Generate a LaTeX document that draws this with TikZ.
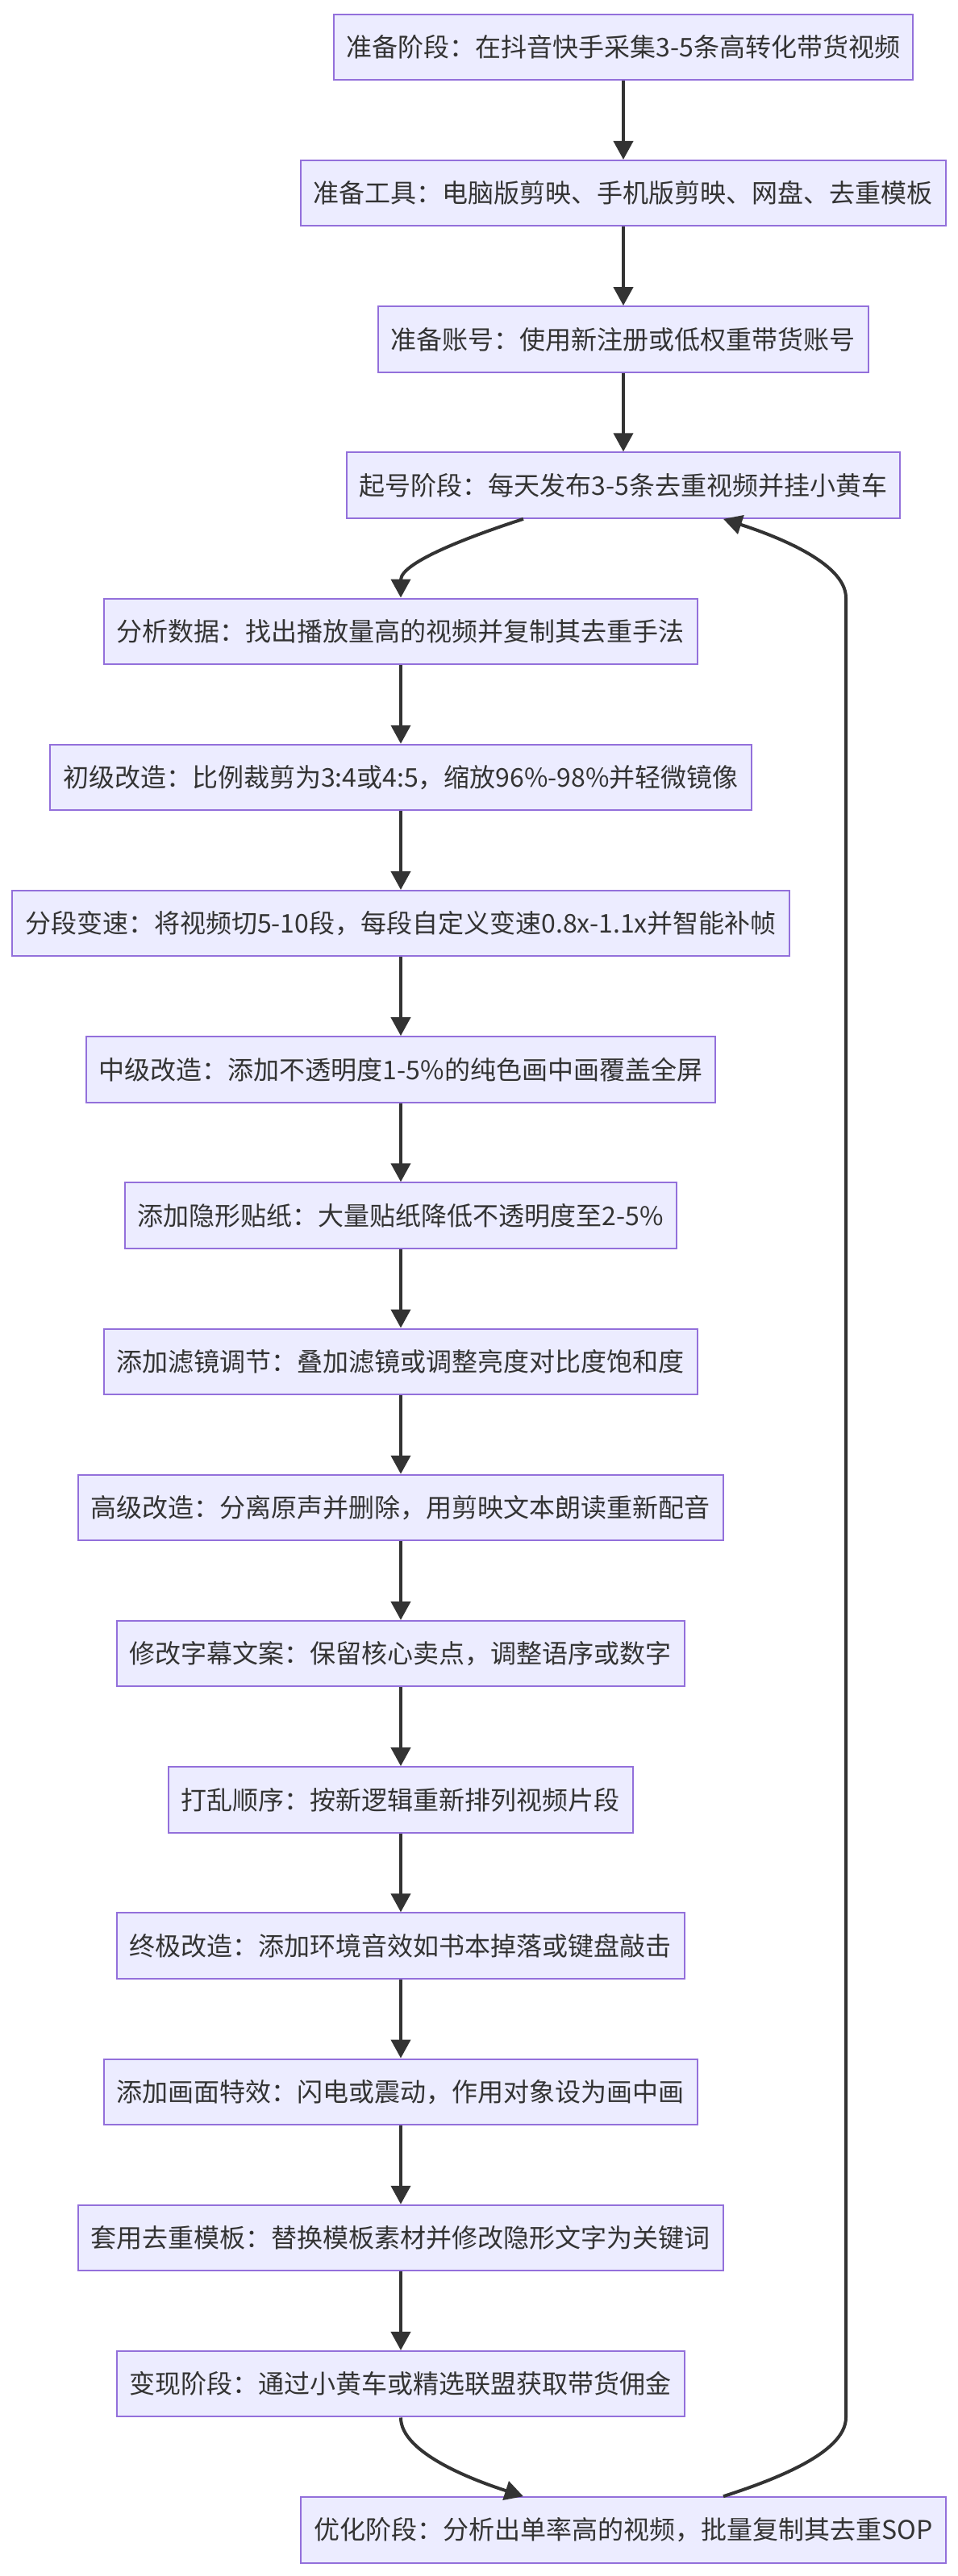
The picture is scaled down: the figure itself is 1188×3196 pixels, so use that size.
\documentclass[tikz,border=0pt]{standalone}
\usepackage{fontspec}
\setmainfont{Noto Sans CJK SC}
\usepackage{xcolor}
\usepackage{tikz}
\usetikzlibrary{arrows.meta}
\definecolor{stagefill}{HTML}{ECECFF}
\definecolor{stageline}{HTML}{9370DB}
\definecolor{inkgray}{HTML}{333333}
\tikzstyle{stage} = [rectangle, draw=stageline, fill=stagefill, line width=2pt,
    text=inkgray, minimum height=81.5pt, inner xsep=16pt, inner ysep=0pt,
    font=\fontsize{32pt}{38pt}\selectfont]
\tikzstyle{link} = [draw=inkgray, line width=4pt, -{Triangle[length=23pt,width=24pt]}]

\begin{document}
\begin{tikzpicture}[node distance = 181.2pt, auto]
  \useasboundingbox (-773pt,58.5pt) rectangle (415pt,-3137.5pt);
  % Place nodes
  \node [stage] (prep) {准备阶段：在抖音快手采集3-5条高转化带货视频};
  \node [stage, below of=prep] (tools) {准备工具：电脑版剪映、手机版剪映、网盘、去重模板};
  \node [stage, below of=tools] (account) {准备账号：使用新注册或低权重带货账号};
  \node [stage, below of=account] (start) {起号阶段：每天发布3-5条去重视频并挂小黄车};
  \node [stage, below of=start, xshift=-276pt] (analyse) {分析数据：找出播放量高的视频并复制其去重手法};
  \node [stage, below of=analyse] (crop) {初级改造：比例裁剪为3:4或4:5，缩放96\%-98\%并轻微镜像};
  \node [stage, below of=crop] (speed) {分段变速：将视频切5-10段，每段自定义变速0.8x-1.1x并智能补帧};
  \node [stage, below of=speed] (overlay) {中级改造：添加不透明度1-5\%的纯色画中画覆盖全屏};
  \node [stage, below of=overlay] (sticker) {添加隐形贴纸：大量贴纸降低不透明度至2-5\%};
  \node [stage, below of=sticker] (filter) {添加滤镜调节：叠加滤镜或调整亮度对比度饱和度};
  \node [stage, below of=filter] (voice) {高级改造：分离原声并删除，用剪映文本朗读重新配音};
  \node [stage, below of=voice] (subs) {修改字幕文案：保留核心卖点，调整语序或数字};
  \node [stage, below of=subs] (shuffle) {打乱顺序：按新逻辑重新排列视频片段};
  \node [stage, below of=shuffle] (sound) {终极改造：添加环境音效如书本掉落或键盘敲击};
  \node [stage, below of=sound] (effect) {添加画面特效：闪电或震动，作用对象设为画中画};
  \node [stage, below of=effect] (tmpl) {套用去重模板：替换模板素材并修改隐形文字为关键词};
  \node [stage, below of=tmpl] (cash) {变现阶段：通过小黄车或精选联盟获取带货佣金};
  \node [stage, below of=cash, xshift=276pt] (optim) {优化阶段：分析出单率高的视频，批量复制其去重SOP};
  % Draw edges
  \path [link] (prep) -- (tools);
  \path [link] (tools) -- (account);
  \path [link] (account) -- (start);
  \path [link] ([xshift=-124pt]start.south) to[out=-162, in=90, out distance=60pt, in distance=45pt] (analyse.north);
  \path [link] (analyse) -- (crop);
  \path [link] (crop) -- (speed);
  \path [link] (speed) -- (overlay);
  \path [link] (overlay) -- (sticker);
  \path [link] (sticker) -- (filter);
  \path [link] (filter) -- (voice);
  \path [link] (voice) -- (subs);
  \path [link] (subs) -- (shuffle);
  \path [link] (shuffle) -- (sound);
  \path [link] (sound) -- (effect);
  \path [link] (effect) -- (tmpl);
  \path [link] (tmpl) -- (cash);
  \path [link] (cash.south) to[out=-90, in=162, out distance=45pt, in distance=60pt] ([xshift=-124pt]optim.north);
  \path [link] ([xshift=124pt]optim.north) to[out=18, in=-90, out distance=60pt, in distance=45pt]
    ([xshift=276pt]optim.center |- cash.south) -- ([xshift=276pt]optim.center |- analyse.north)
    to[out=90, in=-18, out distance=45pt, in distance=60pt] ([xshift=124pt]start.south);
\end{tikzpicture}
\end{document}
